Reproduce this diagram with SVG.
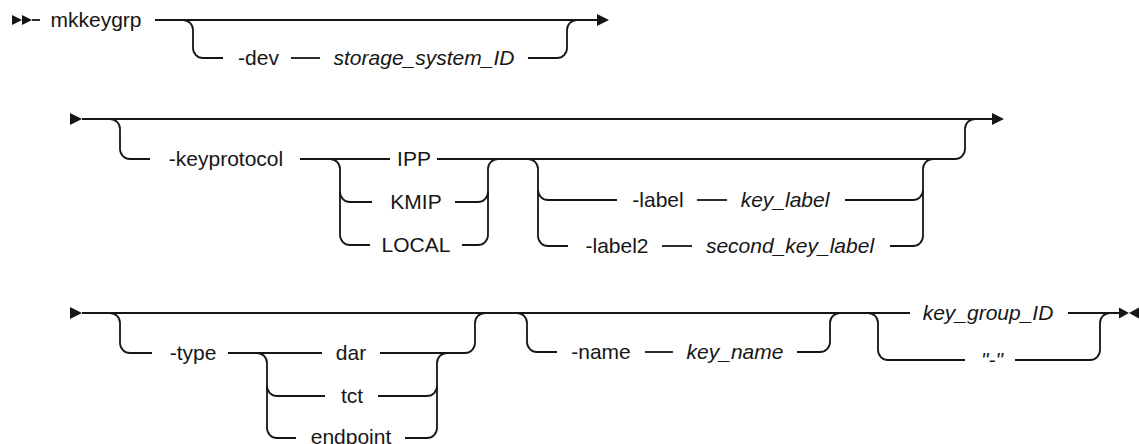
<svg xmlns="http://www.w3.org/2000/svg" width="1139" height="444" viewBox="0 0 1139 444">
<style>
.t{font-family:"Liberation Sans",Arial,sans-serif;font-size:21px;fill:#161616;text-anchor:middle}
.i{font-style:italic}
.l{stroke:#161616;stroke-width:1.8;fill:none;stroke-linecap:butt}
.a{fill:#161616;stroke:none}
</style>
<rect width="1139" height="444" fill="#ffffff"/>
<g id="connectors">
<!-- Row 1 -->
<polygon class="a" points="12,15 22,20 12,25"/>
<polygon class="a" points="22,15 32,20 22,25"/>
<path class="l" d="M32 20H40"/>
<path class="l" d="M155 20H597"/>
<polygon class="a" points="597,14 609,20 597,26"/>
<path class="l" d="M183 20A10 10 0 0 1 193 30V48A10 10 0 0 0 203 58H223"/>
<path class="l" d="M291 58H320"/>
<path class="l" d="M528 58H557A10 10 0 0 0 567 48V30A10 10 0 0 1 577 20"/>
<!-- Row 2 -->
<polygon class="a" points="70,113 82,119 70,125"/>
<path class="l" d="M82 119H992"/>
<polygon class="a" points="992,113 1004,119 992,125"/>
<path class="l" d="M110 119A10 10 0 0 1 120 129V149A10 10 0 0 0 130 159H150"/>
<path class="l" d="M300 159H390"/>
<path class="l" d="M437 159H955A10 10 0 0 0 965 149V129A10 10 0 0 1 975 119"/>
<path class="l" d="M330 159A10 10 0 0 1 340 169V192A10 10 0 0 0 350 202H372"/>
<path class="l" d="M340 192V235A10 10 0 0 0 350 245H370"/>
<path class="l" d="M455 202H478A10 10 0 0 0 488 192V169A10 10 0 0 1 498 159"/>
<path class="l" d="M462 245H478A10 10 0 0 0 488 235V192"/>
<path class="l" d="M528 159A10 10 0 0 1 538 169V190A10 10 0 0 0 548 200H617"/>
<path class="l" d="M538 190V236A10 10 0 0 0 548 246H568"/>
<path class="l" d="M697 200H727"/>
<path class="l" d="M662 246H692"/>
<path class="l" d="M845 200H913A10 10 0 0 0 923 190V169A10 10 0 0 1 933 159"/>
<path class="l" d="M890 246H913A10 10 0 0 0 923 236V190"/>
<!-- Row 3 -->
<polygon class="a" points="70,307 82,313 70,319"/>
<path class="l" d="M82 313H910"/>
<path class="l" d="M1068 313H1119"/>
<polygon class="a" points="1119,307.5 1129,313 1119,318.5"/>
<polygon class="a" points="1139,307.5 1129,313 1139,318.5"/>
<path class="l" d="M110 313A10 10 0 0 1 120 323V343A10 10 0 0 0 130 353H152"/>
<path class="l" d="M228 353H322"/>
<path class="l" d="M380 353H465A10 10 0 0 0 475 343V323A10 10 0 0 1 485 313"/>
<path class="l" d="M257 353A10 10 0 0 1 267 363V386A10 10 0 0 0 277 396H325"/>
<path class="l" d="M267 386V428A10 10 0 0 0 277 438H296"/>
<path class="l" d="M378 396H427A10 10 0 0 0 437 386V363A10 10 0 0 1 447 353"/>
<path class="l" d="M405 438H427A10 10 0 0 0 437 428V386"/>
<path class="l" d="M517 313A10 10 0 0 1 527 323V342A10 10 0 0 0 537 352H557"/>
<path class="l" d="M645 352H673"/>
<path class="l" d="M797 352H820A10 10 0 0 0 830 342V323A10 10 0 0 1 840 313"/>
<path class="l" d="M868 313A10 10 0 0 1 878 323V350A10 10 0 0 0 888 360H965"/>
<path class="l" d="M1015 360H1090A10 10 0 0 0 1100 350V323A10 10 0 0 1 1110 313"/>
</g>
<g id="mkkeygrp"><text class="t" x="96" y="27">mkkeygrp</text></g>
<g id="dev"><text class="t" x="258.5" y="65">-dev</text></g>
<g id="storage_system_ID"><text class="t i" x="424" y="65">storage_system_ID</text></g>
<g id="keyprotocol"><text class="t" x="226" y="166">-keyprotocol</text></g>
<g id="IPP"><text class="t" x="414" y="166">IPP</text></g>
<g id="KMIP"><text class="t" x="416" y="209">KMIP</text></g>
<g id="LOCAL"><text class="t" x="416" y="252">LOCAL</text></g>
<g id="label"><text class="t" x="658" y="207">-label</text></g>
<g id="key_label"><text class="t i" x="785" y="207">key_label</text></g>
<g id="label2"><text class="t" x="617" y="253">-label2</text></g>
<g id="second_key_label"><text class="t i" x="790" y="253">second_key_label</text></g>
<g id="type"><text class="t" x="193" y="360">-type</text></g>
<g id="dar"><text class="t" x="351" y="360">dar</text></g>
<g id="tct"><text class="t" x="352" y="403">tct</text></g>
<g id="endpoint"><text class="t" x="351" y="444">endpoint</text></g>
<g id="name"><text class="t" x="601" y="359">-name</text></g>
<g id="key_name"><text class="t i" x="735" y="359">key_name</text></g>
<g id="key_group_ID"><text class="t i" x="988" y="320">key_group_ID</text></g>
<g id="dash"><text class="t i" x="992" y="367">"-"</text></g>
</svg>
